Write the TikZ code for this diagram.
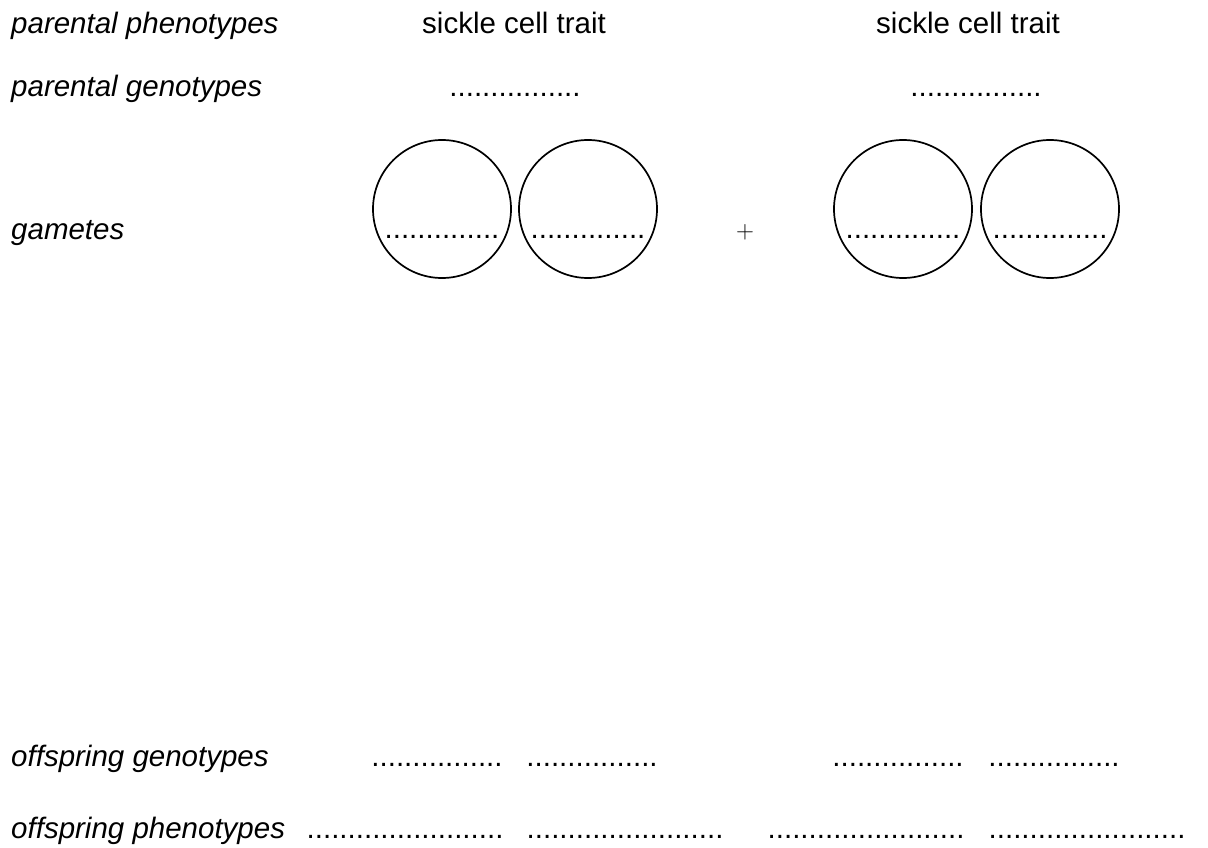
\documentclass[tikz,border=0pt]{standalone}
\usepackage{fontspec}
\setmainfont{Liberation Sans}
\newcommand{\gamdots}{..............}
\newcommand{\gendots}{................}
\newcommand{\phendots}{........................}
\begin{document}
\begin{tikzpicture}[x=1pt,y=-1pt,
	every node/.style={inner sep=0pt,font=\fontsize{29.5}{35}\selectfont},
	rowname/.style={anchor=base west,font=\fontsize{29.5}{35}\selectfont\itshape},
	blank/.style={anchor=base},
	gamete/.style={draw,circle,line width=1.7pt,minimum size=138pt}]
	\useasboundingbox (0,0) rectangle (1208,848);
	\node[rowname] (phen) at (11,34) {parental phenotypes};
	\node[rowname] (gen) at (11,97) {parental genotypes};
	\node[rowname] (gam) at (11,239) {gametes};
	\node[rowname] (ogen) at (11,766) {offspring genotypes};
	\node[rowname] (ophen) at (11,838) {offspring phenotypes};
	\node[blank] (ph1) at (514,34) {sickle cell trait};
	\node[blank] (ph2) at (968,34) {sickle cell trait};
	\node[blank] (pg1) at (515,97) {\gendots};
	\node[blank] (pg2) at (976,97) {\gendots};
	\foreach \n/\x in {1/442,2/588,3/903,4/1050}{
		\node[gamete] (c\n) at (\x,209) {};
		\node[blank] (d\n) at (\x,238) {\gamdots};
	}
	\node (plus) at (745,232) {\fontsize{26}{30}\selectfont$+$};
	\foreach \n/\x in {1/437,2/592,3/898,4/1054}
		\node[blank] (og\n) at (\x,766) {\gendots};
	\foreach \n/\x in {1/405,2/625,3/866,4/1087}
		\node[blank] (op\n) at (\x,838) {\phendots};
\end{tikzpicture}
\end{document}
